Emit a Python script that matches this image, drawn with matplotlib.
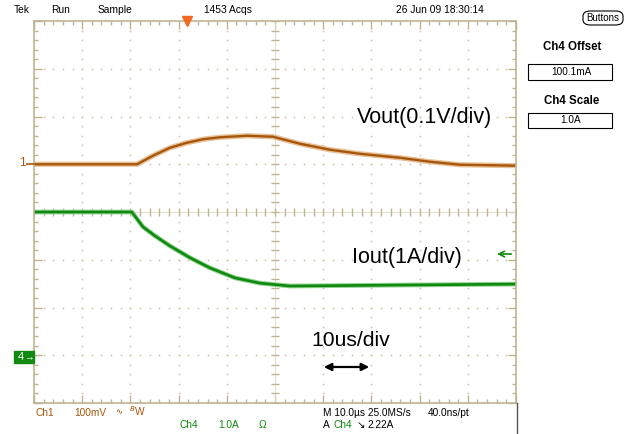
import numpy as np
import matplotlib
matplotlib.use("Agg")
import matplotlib.pyplot as plt
from matplotlib.patches import Rectangle, FancyBboxPatch, FancyArrowPatch
from matplotlib.lines import Line2D

plt.rcParams['font.family'] = ['Liberation Sans', 'DejaVu Sans']

# Ch1 : Vout deviation from its DC level (mV) against time (us)
vout_time_us = [-50, -28.6, -25.3, -21.8, -18.3, -14.9, -11.4, -5.8, -0.4,
                5.2, 11.4, 17.6, 25.9, 32.2, 38.4, 50]
vout_mv = [0, 0, 18, 34.5, 45, 52.4, 56.5, 59.7, 57.6,
           42.9, 30.4, 22, 13.6, 5.2, -1, -3]

# Ch4 : Iout (A) against time (us)
iout_time_us = [-50, -29.7, -27.4, -24.9, -21.8, -17.6, -13.5, -8.3, -3.1,
                3.1, 25.9, 50]
iout_a = [3.1, 3.1, 2.79, 2.60, 2.39, 2.14, 1.93, 1.72, 1.61,
          1.55, 1.57, 1.59]

# Scope settings
ch1_scale_mv = 100
ch1_pos_div = 1
ch4_scale_a = 1.0
ch4_offset_a = 0.1001
ch4_pos_div = -3
trig_level_a = 2.22
trig_time_us = -18.3
time_div_us = 10

W, H = 629, 434
BORDER = '#bdb591'
GRID = '#c9c2a6'
BROWN = '#a8560c'
GREEN = '#0e8a0e'


def P(x, y):
    # pixel position -> figure fraction
    return x / W, 1 - y / H


fig = plt.figure(figsize=(W / 100, H / 100), dpi=100)
ax = fig.add_axes([34 / W, 1 - 403 / H, 482 / W, 382 / H])
ax.set_xlim(-5 * time_div_us, 5 * time_div_us)
ax.set_ylim(-4, 4)

# graticule
ax.set_xticks(np.arange(-50, 51, 10))
ax.set_xticks(np.arange(-50, 51, 2), minor=True)
ax.set_yticks(np.arange(-4, 5, 1))
ax.set_yticks(np.arange(-4, 4.01, 0.2), minor=True)
ax.tick_params(which='both', direction='in', top=True, right=True,
               labelbottom=False, labelleft=False, color=BORDER, width=1)
ax.tick_params(which='major', length=5.5)
ax.tick_params(which='minor', length=3)
for s in ax.spines.values():
    s.set_color(BORDER)
    s.set_linewidth(1.2)

ys = np.arange(-4, 4.01, 0.2)
xs = np.arange(-50, 50.1, 2)
for gx in range(-40, 50, 10):
    if gx != 0:
        ax.plot([gx] * len(ys), ys, ls='none', marker='s', ms=1.1, color=GRID, mec='none')
for gy in range(-3, 4):
    if gy != 0:
        ax.plot(xs, [gy] * len(xs), ls='none', marker='s', ms=1.1, color=GRID, mec='none')

# center cross with minor ticks
ax.axhline(0, color='#ddd8c4', lw=0.6)
ax.axvline(0, color='#ddd8c4', lw=0.6)
ax.plot(xs, np.zeros(len(xs)), ls='none', marker='|', ms=6, mew=1, color=BORDER)
ax.plot(np.zeros(len(ys)), ys, ls='none', marker='_', ms=6, mew=1, color=BORDER)

# traces
v_div = ch1_pos_div + np.array(vout_mv) / ch1_scale_mv
i_div = ch4_pos_div + (np.array(iout_a) - ch4_offset_a) / ch4_scale_a
ax.plot(vout_time_us, v_div, color='#e6c29a', lw=3.8, solid_capstyle='butt')
ax.plot(vout_time_us, v_div, color=BROWN, lw=1.7)
ax.plot(iout_time_us, i_div, color='#8fd08f', lw=3.4, solid_capstyle='butt')
ax.plot(iout_time_us, i_div, color=GREEN, lw=1.9)

# trigger position and level markers
ax.plot([trig_time_us], [4], marker='v', ms=7, color='#f26a22', clip_on=False, zorder=5)
trig_div = ch4_pos_div + (trig_level_a - ch4_offset_a) / ch4_scale_a
ax.annotate('', xy=(45.5, trig_div), xytext=(49.6, trig_div),
            arrowprops=dict(arrowstyle='->', color=GREEN, lw=1.2))

# channel ground markers
fig.text(*P(22, 163), '1', color=BROWN, fontsize=8.5, ha='center', va='center')
fig.add_artist(Line2D([27 / W, 34 / W], [1 - 163.5 / H] * 2, color=BROWN, lw=1.2))
fig.add_artist(Rectangle(P(14, 363), 20 / W, 12 / H, color='#128a12'))
fig.text(*P(21, 357), '4', color='white', fontsize=8, ha='center', va='center')
fig.text(*P(29, 357), '\u2192', color='white', fontsize=7, ha='center', va='center')

# large annotations
fig.text(*P(357, 117), 'Vout(0.1V/div)', fontsize=15.5, ha='left', va='center')
fig.text(*P(352, 258), 'Iout(1A/div)', fontsize=15.5, ha='left', va='center')
fig.text(*P(311, 340), '10us/div', fontsize=15.2, ha='left', va='center')
fig.add_artist(FancyArrowPatch(
    P(321, 367), P(372, 367), arrowstyle='<|-|>', mutation_scale=11,
    color='black', lw=1.6))

# status bar
top = dict(fontsize=7.4, va='center', ha='left')
fig.text(*P(14, 10), 'Tek', **top)
fig.text(*P(51, 10), 'Run', **top)
fig.text(*P(98, 10), 'Sample', **top)
fig.text(*P(204, 10), '1453 Acqs', **top)
fig.text(*P(396, 10), '26 Jun 09 18:30:14', **top)
fig.add_artist(FancyBboxPatch(P(583, 25), 40 / W, 14 / H,
                              boxstyle='round,pad=0,rounding_size=0.012',
                              fc='white', ec='black', lw=0.8))
fig.text(*P(603, 18), 'Buttons', fontsize=7, ha='center', va='center')

# side menu
fig.text(*P(572, 47), 'Ch4 Offset', fontsize=8.3, weight='bold', ha='center', va='center')
fig.add_artist(Rectangle(P(528, 80), 84 / W, 16 / H, fc='white', ec='black', lw=0.8))
fig.text(*P(571, 72), '100.1mA', fontsize=7.2, ha='center', va='center')
fig.text(*P(572, 101), 'Ch4 Scale', fontsize=8.3, weight='bold', ha='center', va='center')
fig.add_artist(Rectangle(P(528, 128), 84 / W, 15 / H, fc='white', ec='black', lw=0.8))
fig.text(*P(571, 120), '1.0A', fontsize=7.2, ha='center', va='center')
fig.add_artist(Line2D([516.5 / W] * 2, [0, 1 - 403 / H], color='#555555', lw=1))

# channel readouts
bot = dict(fontsize=7.3, va='center', ha='left')
fig.text(*P(35, 413), 'Ch1', color=BROWN, **bot)
fig.text(*P(74, 413), '100mV', color=BROWN, **bot)
fig.text(*P(115, 413), '\u223f', color=BROWN, fontsize=6, va='center', ha='left')
fig.text(*P(129, 411), '$^{B}$W', color=BROWN, **bot)
fig.text(*P(179, 425), 'Ch4', color=GREEN, **bot)
fig.text(*P(218, 425), '1.0A', color=GREEN, **bot)
fig.text(*P(259, 425), '\u03a9', color=GREEN, **bot)
fig.text(*P(323, 413), 'M 10.0\u00b5s 25.0MS/s', **bot)
fig.text(*P(428, 413), '40.0ns/pt', **bot)
fig.text(*P(323, 425), 'A', **bot)
fig.text(*P(333, 425), 'Ch4', color=GREEN, **bot)
fig.text(*P(357, 425), '\u2198', **bot)
fig.text(*P(367, 425), '2.22A', **bot)

fig.savefig('out.png', dpi=100)
